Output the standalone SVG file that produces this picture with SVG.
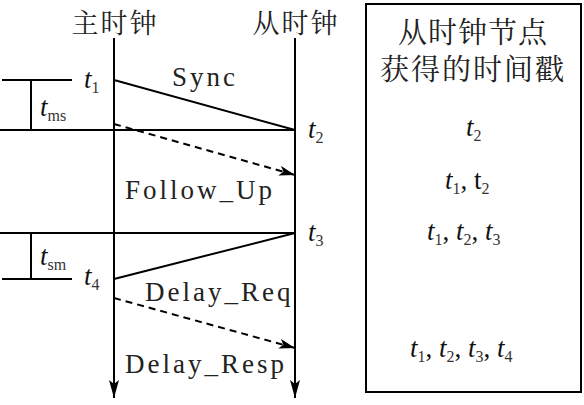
<svg xmlns="http://www.w3.org/2000/svg" width="584" height="405" viewBox="0 0 584 405">
<style>
.ln{stroke:#000;stroke-width:2;fill:none}
.ds{stroke:#000;stroke-width:2;fill:none;stroke-dasharray:7,5}
.cjk{font-family:'Noto Serif CJK SC','Noto Sans CJK SC',serif;font-size:29px;fill:#222}
.hd{font-family:'Noto Serif CJK SC','Noto Sans CJK SC',serif;font-size:27px;letter-spacing:2px;fill:#222}
.lbl{font-family:'Liberation Serif','Times New Roman','DejaVu Serif',serif;font-size:27px;letter-spacing:3px;fill:#222}
.t{font-family:'Liberation Serif','Times New Roman','DejaVu Serif',serif;font-size:27px;font-style:italic;fill:#111}
.sub{font-family:'Liberation Serif','Times New Roman','DejaVu Serif',serif;font-size:16px;font-style:normal;fill:#333}
</style>
<defs>
<marker id="ah" viewBox="0 0 16 10" refX="16" refY="5" markerWidth="16" markerHeight="10" markerUnits="userSpaceOnUse" orient="auto">
<path d="M0,0 L16,5 L0,10 L4,5 Z" fill="#000"/>
</marker>
<marker id="av" viewBox="0 0 10 18" refX="5" refY="18" markerWidth="10" markerHeight="18" markerUnits="userSpaceOnUse" orient="0">
<path d="M0,0 L5,18 L10,0 L5,4 Z" fill="#000"/>
</marker>
</defs>
<g id="master">
<text class="hd" x="115" y="33" text-anchor="middle">主时钟</text>
<line class="ln" x1="114" y1="38" x2="114" y2="398" marker-end="url(#av)"/>
</g>
<g id="slave">
<text class="hd" x="296" y="33" text-anchor="middle">从时钟</text>
<line class="ln" x1="295" y1="38" x2="295" y2="398" marker-end="url(#av)"/>
</g>
<g id="intervals">
<line class="ln" x1="2" y1="80" x2="72" y2="80"/>
<line class="ln" x1="31" y1="80" x2="31" y2="130"/>
<line class="ln" x1="0" y1="130" x2="295" y2="130"/>
<line class="ln" x1="0" y1="233" x2="295" y2="233"/>
<line class="ln" x1="31" y1="233" x2="31" y2="279"/>
<line class="ln" x1="2" y1="279" x2="72" y2="279"/>
<text class="t" x="84" y="88">t<tspan class="sub" dy="5">1</tspan></text>
<text class="t" x="40" y="116">t<tspan class="sub" dy="5">ms</tspan></text>
<text class="t" x="308" y="138">t<tspan class="sub" dy="5">2</tspan></text>
<text class="t" x="308" y="241">t<tspan class="sub" dy="5">3</tspan></text>
<text class="t" x="40" y="265">t<tspan class="sub" dy="5">sm</tspan></text>
<text class="t" x="84" y="285">t<tspan class="sub" dy="5">4</tspan></text>
</g>
<g id="connectors">
<line class="ln" x1="114" y1="80" x2="295" y2="130"/>
<line class="ds" x1="114" y1="124" x2="295" y2="175" marker-end="url(#ah)"/>
<line class="ln" x1="114" y1="279" x2="295" y2="233"/>
<line class="ds" x1="114" y1="298" x2="295" y2="348" marker-end="url(#ah)"/>
</g>
<g id="labels">
<text class="lbl" x="172" y="86">Sync</text>
<text class="lbl" x="125" y="199">Follow_Up</text>
<text class="lbl" x="145" y="301">Delay_Req</text>
<text class="lbl" x="125" y="373">Delay_Resp</text>
</g>
<g id="timestamps">
<rect class="ln" x="366" y="4" width="215" height="388"/>
<text class="cjk" x="473" y="43" text-anchor="middle" letter-spacing="1">从时钟节点</text>
<text class="cjk" x="473" y="80" text-anchor="middle" letter-spacing="2">获得的时间戳</text>
<text class="t" x="466" y="136">t<tspan class="sub" dy="5">2</tspan></text>
<text class="t" x="445" y="189">t<tspan class="sub" dy="5">1</tspan><tspan dy="-5" font-style="normal">, t</tspan><tspan class="sub" dy="5">2</tspan></text>
<text class="t" x="427" y="240">t<tspan class="sub" dy="5">1</tspan><tspan dy="-5" font-style="normal">, </tspan><tspan dy="0">t</tspan><tspan class="sub" dy="5">2</tspan><tspan dy="-5" font-style="normal">, </tspan><tspan>t</tspan><tspan class="sub" dy="5">3</tspan></text>
<text class="t" x="410" y="357">t<tspan class="sub" dy="5">1</tspan><tspan dy="-5" font-style="normal">, </tspan><tspan>t</tspan><tspan class="sub" dy="5">2</tspan><tspan dy="-5" font-style="normal">, </tspan><tspan>t</tspan><tspan class="sub" dy="5">3</tspan><tspan dy="-5" font-style="normal">, </tspan><tspan>t</tspan><tspan class="sub" dy="5">4</tspan></text>
</g>
</svg>
